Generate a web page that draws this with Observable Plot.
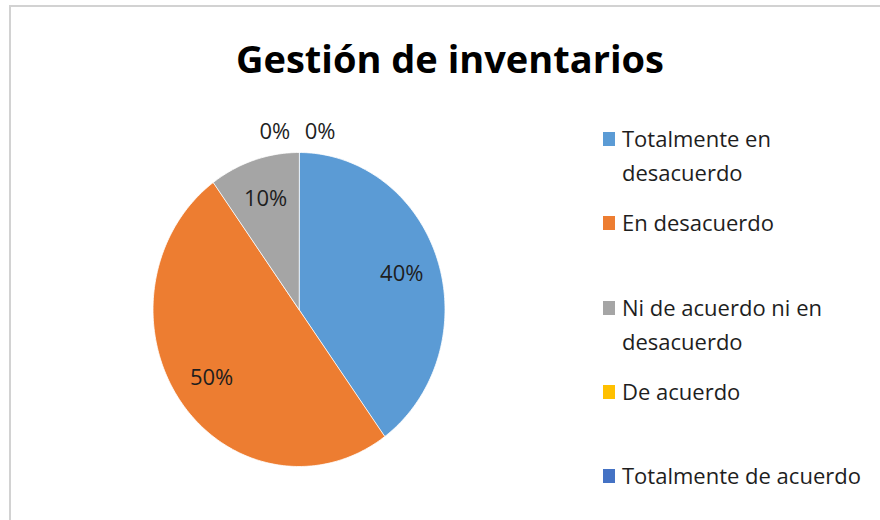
<!DOCTYPE html>
<html>
<head>
<meta charset="utf-8">
<script src="https://cdn.jsdelivr.net/npm/d3@7"></script>
<script src="https://cdn.jsdelivr.net/npm/@observablehq/plot@0.6"></script>
<style>
  html, body { margin: 0; padding: 0; background: #fff; overflow: hidden; }
  #page { position: relative; width: 880px; height: 520px; overflow: hidden; font-family: "Open Sans", sans-serif; }
  #frame { position: absolute; left: 9px; top: 5px; width: 900px; height: 540px;
           border-left: 2px solid #d2d2d2; border-top: 2px solid #d2d2d2; }
  #title { position: absolute; left: 0; width: 900px; top: 22px; text-align: center;
           font-size: 38px; font-weight: 700; color: #000; line-height: 72px; }
  #chart { position: absolute; left: 0; top: 100px; }
  #legend { position: absolute; left: 603px; top: 121px; width: 270px; }
  .item { height: 84.3px; display: flex; align-items: flex-start; }
  .sw { width: 12px; height: 14px; margin-top: 11px; margin-right: 7px; flex: none; }
  .lab { font-size: 22px; line-height: 34px; color: #1e1e1e; width: 245px; }
</style>
</head>
<body>
<div id="page">
  <div id="frame"></div>
  <div id="title"></div>
  <div id="chart"></div>
  <div id="legend"></div>
</div>
<script>
const title = "Gestión de inventarios";
const categories = [
  "Totalmente en desacuerdo",
  "En desacuerdo",
  "Ni de acuerdo ni en desacuerdo",
  "De acuerdo",
  "Totalmente de acuerdo"
];
const values = [40, 50, 10, 0, 0];
const colors = ["#5B9BD5", "#ED7D31", "#A5A5A5", "#FFC000", "#4472C4"];

document.getElementById("title").textContent = title;

// pie geometry (angles clockwise from 12 o'clock)
const arcs = d3.pie().sort(null).startAngle(0).endAngle(2 * Math.PI)(values);
const slices = [];
arcs.forEach((a, i) => {
  if (a.value <= 0) return;
  const cat = categories[i];
  slices.push({cat, x: 0, y: 0});
  const n = Math.max(2, Math.ceil((a.endAngle - a.startAngle) / (Math.PI / 180)));
  for (let k = 0; k <= n; k++) {
    const t = a.startAngle + (a.endAngle - a.startAngle) * k / n;
    slices.push({cat, x: Math.sin(t), y: Math.cos(t)});
  }
});

// data labels
const zeroIdx = arcs.map((a, i) => a.value === 0 ? i : -1).filter(i => i >= 0);
const labels = arcs.map((a, i) => {
  if (a.value > 0) {
    const m = (a.startAngle + a.endAngle) / 2, r = 0.74;
    return {x: r * Math.sin(m), y: r * Math.cos(m), text: `${a.value}%`};
  }
  const k = zeroIdx.indexOf(i), r = 1.13;
  const off = (k - (zeroIdx.length - 1) / 2) * 0.31 - 0.01;
  return {x: r * Math.sin(a.startAngle) + off, y: r * Math.cos(a.startAngle), text: `${a.value}%`};
});

const cx = 298.5, cy = 209, rx = 146, ry = 157;
const chart = Plot.plot({
  width: 580,
  height: 420,
  margin: 0,
  x: {domain: [-1, 1], range: [cx - rx, cx + rx], axis: null},
  y: {domain: [-1, 1], range: [cy + ry, cy - ry], axis: null},
  color: {domain: categories, range: colors},
  style: {fontFamily: "'Open Sans', sans-serif", background: "transparent"},
  marks: [
    Plot.line(slices, {x: "x", y: "y", z: "cat", fill: "cat", stroke: "#ffffff", strokeWidth: 0.8, curve: "linear-closed"}),
    Plot.text(labels, {x: "x", y: "y", text: "text", fontSize: 22, fill: "#1e1e1e"})
  ]
});
document.getElementById("chart").appendChild(chart);

// legend
const legend = document.getElementById("legend");
categories.forEach((c, i) => {
  const item = document.createElement("div");
  item.className = "item";
  const sw = document.createElement("div");
  sw.className = "sw";
  sw.style.background = colors[i];
  const lab = document.createElement("div");
  lab.className = "lab";
  lab.textContent = c;
  item.appendChild(sw);
  item.appendChild(lab);
  legend.appendChild(item);
});
</script>
</body>
</html>
